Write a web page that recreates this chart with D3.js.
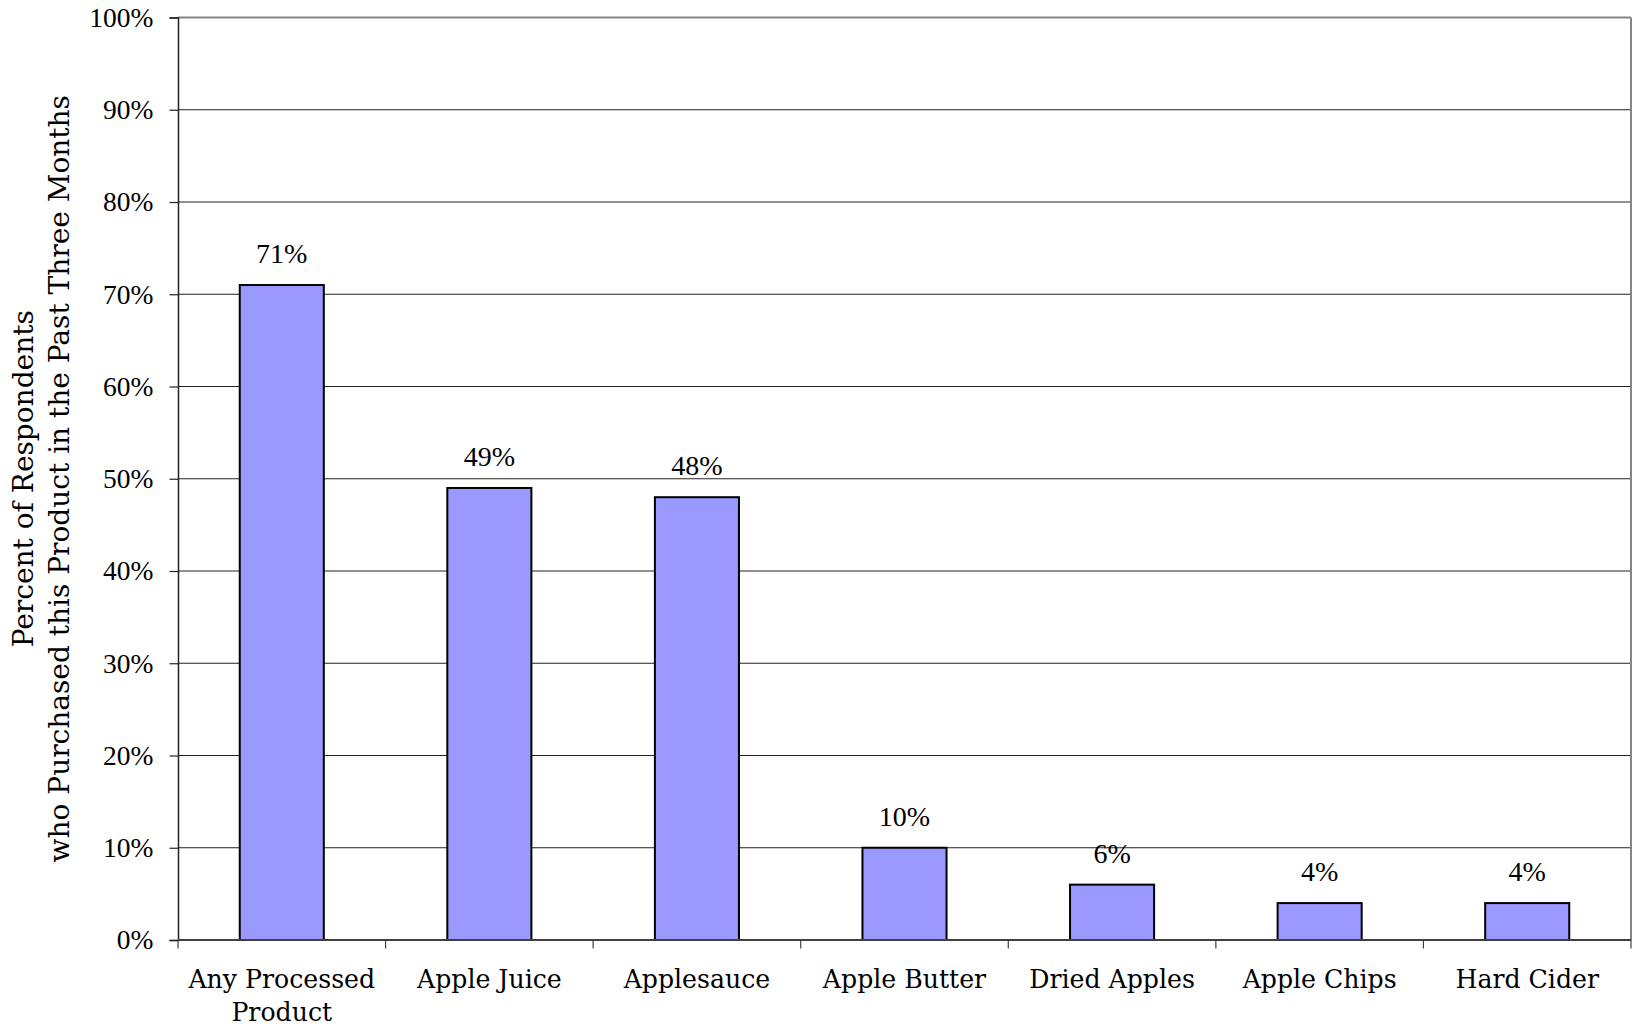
<!DOCTYPE html>
<html>
<head>
<meta charset="utf-8">
<script src="https://cdn.jsdelivr.net/npm/d3@7"></script>
<style>
  html, body { margin: 0; padding: 0; background: #fff; }
  svg { display: block; }
</style>
</head>
<body>
<svg id="chart" width="1633" height="1027"></svg>
<script>
const categories = ["Any Processed Product", "Apple Juice", "Applesauce", "Apple Butter", "Dried Apples", "Apple Chips", "Hard Cider"];
const categoryLines = [["Any Processed", "Product"], ["Apple Juice"], ["Applesauce"], ["Apple Butter"], ["Dried Apples"], ["Apple Chips"], ["Hard Cider"]];
const values = [71, 49, 48, 10, 6, 4, 4];
const yTicks = [0, 10, 20, 30, 40, 50, 60, 70, 80, 90, 100];
const yTitleLines = ["Percent of Respondents", "who Purchased this Product in the Past Three Months"];

(function () {
const svg = d3.select("#chart");
const pL = 178, pR = 1631, pT = 17.5, pB = 940;

const x = d3.scaleBand().domain(categories).range([pL, pR]).paddingInner(0.595).paddingOuter(0.595 / 2);
const y = d3.scaleLinear().domain([0, 100]).range([pB, pT]);

// gridlines
svg.append("g").selectAll("line").data(yTicks.filter(d => d > 0 && d < 100)).join("line")
  .attr("x1", pL).attr("x2", pR)
  .attr("y1", d => y(d)).attr("y2", d => y(d))
  .attr("stroke", "#222").attr("stroke-width", 1.1);

// top & right border
svg.append("line").attr("x1", pL).attr("x2", pR).attr("y1", pT).attr("y2", pT)
  .attr("stroke", "#858585").attr("stroke-width", 2);
svg.append("line").attr("x1", pR).attr("x2", pR).attr("y1", pT).attr("y2", pB)
  .attr("stroke", "#858585").attr("stroke-width", 2);

// bars
svg.append("g").selectAll("rect").data(values).join("rect")
  .attr("x", (d, i) => x(categories[i]))
  .attr("width", x.bandwidth())
  .attr("y", d => y(d))
  .attr("height", d => y(0) - y(d))
  .attr("fill", "#9999FF")
  .attr("stroke", "#000")
  .attr("stroke-width", 2);

// data labels
svg.append("g").selectAll("text").data(values).join("text")
  .attr("x", (d, i) => x(categories[i]) + x.bandwidth() / 2)
  .attr("y", d => y(d) - 22)
  .attr("text-anchor", "middle")
  .attr("font-family", "'Liberation Serif', 'Times New Roman', serif")
  .attr("font-size", 28)
  .attr("fill", "#000")
  .text(d => d + "%");

// y axis
const yAxis = svg.append("g").attr("transform", `translate(${pL},0)`)
  .call(d3.axisLeft(y).tickValues(yTicks).tickFormat(d => d + "%").tickSize(8.5).tickPadding(16));
yAxis.select(".domain").attr("stroke", "#222").attr("stroke-width", 1.5);
yAxis.selectAll(".tick line").attr("stroke", "#222").attr("stroke-width", 1.2);
yAxis.selectAll(".tick text")
  .attr("font-family", "'Liberation Serif', 'Times New Roman', serif")
  .attr("font-size", 27.5).attr("fill", "#000");

// x axis
const boundaries = d3.range(categories.length + 1).map(i => pL + i * x.step());
svg.append("line").attr("x1", pL).attr("x2", pR).attr("y1", pB).attr("y2", pB)
  .attr("stroke", "#404040").attr("stroke-width", 2);
svg.append("g").selectAll("line").data(boundaries).join("line")
  .attr("x1", d => d).attr("x2", d => d)
  .attr("y1", pB).attr("y2", pB + 8.5)
  .attr("stroke", "#404040").attr("stroke-width", 1.2);

const xl = svg.append("g").selectAll("text").data(categoryLines).join("text")
  .attr("x", (d, i) => x(categories[i]) + x.bandwidth() / 2)
  .attr("y", 988)
  .attr("text-anchor", "middle")
  .attr("font-family", "'DejaVu Serif', serif")
  .attr("font-size", 25.2)
  .attr("fill", "#000");
xl.each(function(lines) {
  const t = d3.select(this);
  lines.forEach((ln, j) => {
    t.append("tspan").attr("x", t.attr("x")).attr("dy", j === 0 ? 0 : 32.5).text(ln);
  });
});

// y title
const cy = (pT + pB) / 2;
svg.append("g").selectAll("text").data(yTitleLines).join("text")
  .attr("transform", (d, i) => `translate(${[33, 69][i]},${cy}) rotate(-90)`)
  .attr("text-anchor", "middle")
  .attr("font-family", "'DejaVu Serif', serif")
  .attr("font-size", 28)
  .attr("fill", "#000")
  .text(d => d);
})();
</script>
</body>
</html>
